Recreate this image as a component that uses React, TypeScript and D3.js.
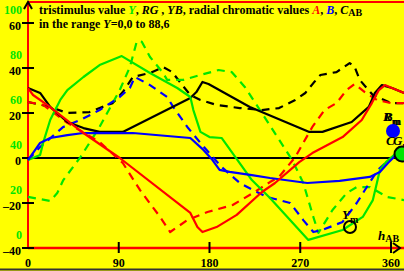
import React, { useEffect, useRef } from "react";
import * as d3 from "d3";

// hue angle h_AB (deg) and values, one pair per curve
const hCab = [0, 12, 22, 39, 55, 71, 94, 161, 167, 173, 179, 220, 279, 292, 321, 338, 344, 351, 361, 373];
const vCab = [31.1, 28.9, 22.7, 16, 13.3, 11.6, 11.6, 26.7, 29.3, 33.8, 32.9, 22.7, 11.6, 11.6, 16, 22.7, 28.9, 32.4, 31.1, 28.9];

const hCabD = [0, 22, 39, 61, 71, 84, 94, 104, 121, 134, 143, 153, 161, 171, 187, 210, 232, 249, 265, 275, 283, 290, 306, 319, 324, 329, 342, 360, 373];
const vCabD = [24.9, 22.7, 20, 20.4, 22.2, 24.4, 29.3, 36, 37.8, 40.4, 38.2, 32.4, 28, 25.8, 23.6, 22.2, 21.3, 22.2, 25.8, 28.9, 33.3, 36.9, 38.2, 42.2, 40.4, 34.7, 28, 24.4, 24.4];

const hY = [0, 12, 15, 22, 32, 39, 55, 71, 93, 121, 148, 161, 164, 171, 180, 192, 222, 240, 278, 312, 332, 342, 346, 349, 355, 362, 366];
const vY = [-0.9, 1.3, 6.7, 16.9, 25.8, 30.2, 36, 41.3, 45.3, 37.8, 31.1, 27.1, 21.3, 11.6, 9.3, 8.9, -9.8, -17.8, -36.4, -32, -26.2, -18.7, -11.1, -5.3, -1.8, 0.9, 2.2];

const hYD = [0, 22, 29, 35, 52, 71, 91, 101, 108, 113, 121, 134, 138, 154, 171, 189, 202, 215, 232, 262, 273, 283, 288, 302, 316, 326, 339, 356, 373];
const vYD = [-17.3, -19.1, -15.6, -9.8, 0.4, 13.8, 30.2, 40.4, 52, 51.6, 44.9, 37.8, 34.7, 34.7, 36.9, 39.1, 38.2, 31.6, 20, -0.9, -11.1, -26.2, -33.3, -23.1, -15.6, -12.9, -12.9, -17.3, -18.7];

const hB = [0, 12, 22, 39, 55, 104, 161, 174, 183, 190, 200, 222, 240, 277, 309, 339, 349, 357, 365, 373];
const vB = [-0.9, 6.7, 8.9, 10.2, 11.1, 11.1, 8.9, 3.6, -0.9, -5.3, -6.2, -7.6, -8.9, -11.1, -10.2, -8.4, -6.2, -2.2, 1.3, 5.3];

const hBD = [0, 12, 35, 52, 71, 91, 101, 106, 121, 138, 144, 158, 171, 192, 210, 223, 237, 260, 273, 283, 292, 312, 326, 336, 347, 360, 373];
const vBD = [-0.9, 4.9, 13.8, 16.9, 21.3, 27.1, 31.1, 36, 32.4, 27.1, 22.7, 13.8, 6.7, -4, -11.1, -14.2, -17.3, -20, -27.6, -32.9, -32, -28.4, -20, -12.9, -5.3, 0, 4.4];

const hA = [0, 5, 19, 55, 91, 161, 168, 173, 187, 207, 232, 245, 269, 282, 312, 331, 341, 348, 354, 361, 373];
const vA = [31.1, 28, 23.6, 11.1, 0, -24.4, -30.7, -32.9, -30.7, -25.3, -15.1, -11.1, -1.8, 2.2, 9.3, 16.9, 24.4, 30.2, 32.4, 31.1, 28.9];

const hAD = [0, 15, 39, 71, 94, 111, 131, 141, 158, 178, 203, 223, 240, 249, 265, 282, 294, 306, 316, 324, 334, 346, 360, 373];
const vAD = [24.9, 23.6, 15.6, 7.1, -2.2, -14.2, -26.2, -32.9, -27.6, -24, -20.9, -15.6, -10.7, -8.4, 0.4, 13.8, 21.3, 24.4, 30.2, 32.9, 29.3, 25.8, 24.4, 24.4];

const xTicks = [0, 90, 180, 270, 360];
const yTicks = [-40, -20, 0, 20, 40, 60];
const yTicksGreen = [0, 20, 40, 60, 80, 100];

const GREEN = "#00e600";
const RED = "#ff0000";
const BLUE = "#0000ff";
const FONT = "'Liberation Serif', 'Times New Roman', serif";

const App: React.FC = () => {
  const svgRef = useRef<SVGSVGElement | null>(null);

  useEffect(() => {
    if (!svgRef.current) return;
    const width = 404;
    const height = 271;

    const svg = d3.select(svgRef.current).attr("width", width).attr("height", height);
    svg.selectAll("*").remove();

    const x = d3.scaleLinear().domain([0, 360]).range([28, 391]);
    const y = d3.scaleLinear().domain([-40, 60]).range([248, 23]);

    svg.append("rect").attr("width", width).attr("height", height).attr("fill", "#ffff00");

    // frame
    svg.append("line").attr("x1", 28).attr("x2", width).attr("y1", 2).attr("y2", 2)
      .attr("stroke", RED).attr("stroke-width", 2);
    svg.append("line").attr("x1", 28).attr("x2", 28).attr("y1", 2).attr("y2", y(-40))
      .attr("stroke", RED).attr("stroke-width", 2);
    svg.append("line").attr("x1", 28).attr("x2", width).attr("y1", y(-40)).attr("y2", y(-40))
      .attr("stroke", RED).attr("stroke-width", 2.5);
    svg.append("line").attr("x1", 0).attr("x2", width).attr("y1", 269.5).attr("y2", 269.5)
      .attr("stroke", "#333").attr("stroke-width", 2);

    // zero line
    svg.append("line").attr("x1", 28).attr("x2", width).attr("y1", y(0)).attr("y2", y(0))
      .attr("stroke", "#000").attr("stroke-width", 2);

    // arrows
    svg.append("path").attr("d", "M24,9 L28,2 L32,9").attr("fill", "none")
      .attr("stroke", "#000").attr("stroke-width", 2);
    svg.append("path").attr("d", `M393,${y(-40) - 5} L400,${y(-40)} L393,${y(-40) + 5}`)
      .attr("fill", "none").attr("stroke", "#000").attr("stroke-width", 2);

    // y ticks and labels
    yTicks.forEach(t => {
      svg.append("line").attr("x1", 22).attr("x2", 34).attr("y1", y(t)).attr("y2", y(t))
        .attr("stroke", "#000").attr("stroke-width", 2);
      svg.append("text").attr("x", 21).attr("y", y(t) + 7).attr("text-anchor", "end")
        .attr("font-family", FONT).attr("font-weight", "bold").attr("font-size", 12)
        .text(t < 0 ? "\u2013" + Math.abs(t) : String(t));
    });
    yTicksGreen.forEach(t => {
      svg.append("text").attr("x", 22).attr("y", y(t - 40) - 9).attr("text-anchor", "end")
        .attr("font-family", FONT).attr("font-weight", "bold").attr("font-size", 12)
        .attr("fill", GREEN).text(String(t));
    });

    // x ticks and labels
    xTicks.forEach(t => {
      if (t > 0) {
        svg.append("line").attr("x1", x(t)).attr("x2", x(t)).attr("y1", y(-40) - 6).attr("y2", y(-40) + 5)
          .attr("stroke", "#000").attr("stroke-width", 2);
      }
      svg.append("text").attr("x", x(t)).attr("y", 267).attr("text-anchor", "middle")
        .attr("font-family", FONT).attr("font-weight", "bold").attr("font-size", 12)
        .text(String(t));
    });

    // curves
    const line = d3.line<[number, number]>().x(d => x(d[0])).y(d => y(d[1]));
    const series: { h: number[]; v: number[]; color: string; dash: boolean }[] = [
      { h: hCabD, v: vCabD, color: "#000", dash: true },
      { h: hYD, v: vYD, color: GREEN, dash: true },
      { h: hBD, v: vBD, color: BLUE, dash: true },
      { h: hAD, v: vAD, color: RED, dash: true },
      { h: hCab, v: vCab, color: "#000", dash: false },
      { h: hY, v: vY, color: GREEN, dash: false },
      { h: hB, v: vB, color: BLUE, dash: false },
      { h: hA, v: vA, color: RED, dash: false },
    ];
    series.forEach(s => {
      const pts = s.h.map((h, i) => [h, s.v[i]] as [number, number]);
      svg.append("path").datum(pts).attr("fill", "none").attr("stroke", s.color)
        .attr("stroke-width", 2.2).attr("stroke-linejoin", "round")
        .attr("stroke-dasharray", s.dash ? "8,6" : null)
        .attr("d", line as any);
    });

    // markers and labels at the right
    const lab = (tx: number, ty: number, main: string, sub: string) => {
      const t = svg.append("text").attr("x", tx).attr("y", ty).attr("font-family", FONT)
        .attr("font-weight", "bold").attr("font-size", 13);
      t.append("tspan").attr("font-style", "italic").text(main);
      t.append("tspan").attr("font-size", 10).attr("dy", 4).text(sub);
    };
    lab(383, 121, "R", "m");
    lab(384, 121, "B", "m");
    svg.append("circle").attr("cx", 393).attr("cy", 131).attr("r", 7).attr("fill", BLUE);
    lab(386, 145, "C", "");
    lab(393, 145, "G", "m");
    svg.append("circle").attr("cx", 402).attr("cy", 154).attr("r", 7.5).attr("fill", GREEN)
      .attr("stroke", "#000").attr("stroke-width", 2);
    svg.append("circle").attr("cx", 350).attr("cy", 227).attr("r", 6).attr("fill", "none")
      .attr("stroke", "#000").attr("stroke-width", 2);
    lab(342, 219, "Y", "m");

    // axis label h_AB
    const hl = svg.append("text").attr("x", 378).attr("y", 240).attr("font-family", FONT)
      .attr("font-weight", "bold").attr("font-size", 13);
    hl.append("tspan").attr("font-style", "italic").text("h");
    hl.append("tspan").attr("font-size", 10).attr("dy", 2).text("AB");

    // title
    const t1 = svg.append("text").attr("x", 39).attr("y", 14).attr("font-family", FONT)
      .attr("font-weight", "bold").attr("font-size", 12);
    t1.append("tspan").text("tristimulus value ");
    t1.append("tspan").attr("font-style", "italic").attr("fill", GREEN).text("Y");
    t1.append("tspan").text(", ");
    t1.append("tspan").attr("font-style", "italic").text("RG");
    t1.append("tspan").text(" , ");
    t1.append("tspan").attr("font-style", "italic").text("YB");
    t1.append("tspan").text(", radial chromatic values ");
    t1.append("tspan").attr("font-style", "italic").attr("fill", RED).text("A");
    t1.append("tspan").text(", ");
    t1.append("tspan").attr("font-style", "italic").attr("fill", BLUE).text("B");
    t1.append("tspan").text(", ");
    t1.append("tspan").attr("font-style", "italic").text("C");
    t1.append("tspan").attr("font-size", 10).attr("dy", 2).text("AB");

    const t2 = svg.append("text").attr("x", 39).attr("y", 28).attr("font-family", FONT)
      .attr("font-weight", "bold").attr("font-size", 12);
    t2.append("tspan").text("in the range ");
    t2.append("tspan").attr("font-style", "italic").text("Y");
    t2.append("tspan").text("=0,0 to 88,6");
  }, []);

  return (
    <div style={{ position: "absolute", left: 0, top: 0 }}>
      <svg ref={svgRef}></svg>
    </div>
  );
};

export default App;
